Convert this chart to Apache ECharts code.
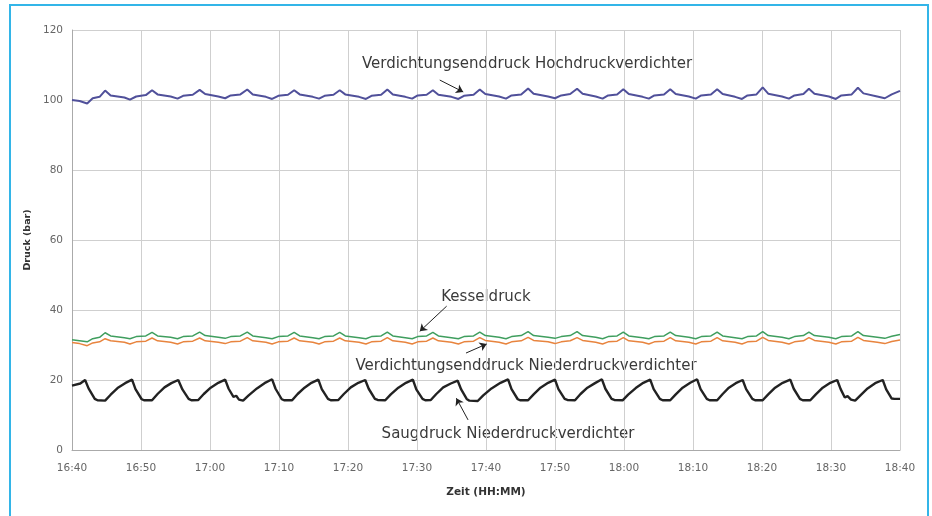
<!DOCTYPE html>
<html>
<head>
<meta charset="utf-8">
<script src="https://cdn.jsdelivr.net/npm/echarts@6/dist/echarts.min.js"></script>
<style>html,body{margin:0;padding:0;background:#fff;}#c{width:932px;height:516px;}</style>
</head>
<body>
<div id="c"></div>
<script>
// Tick labels (x axis, minutes from 16:40 in steps of 10)
var xLabels = ['16:40','16:50','17:00','17:10','17:20','17:30','17:40','17:50','18:00','18:10','18:20','18:30','18:40'];

// Shared time base (minutes after 16:40) for the high-pressure, boiler and low-pressure discharge series
var hdT = [0,1.1,2.2,3.0,4.0,4.8,
  5.6,7.6,8.4,9.3,10.7,11.6,
  12.4,14.3,15.3,16.1,17.5,18.5,
  19.3,21.2,22.2,23.0,24.4,25.4,
  26.2,28.1,29.0,29.9,31.3,32.2,
  33.0,34.9,35.8,36.6,37.9,38.8,
  39.6,41.6,42.6,43.4,44.8,45.7,
  46.5,48.3,49.3,50.1,51.4,52.3,
  53.1,55.0,56.0,56.8,58.2,59.1,
  59.9,61.9,62.9,63.7,65.1,66.1,
  66.9,69.0,70.0,70.9,72.2,73.2,
  74.0,75.9,76.9,77.7,79.0,79.9,
  80.7,82.7,83.6,84.4,85.8,86.7,
  87.5,89.4,90.4,91.2,92.6,93.5,
  94.3,96.1,97.1,97.9,99.2,100.1,
  100.9,102.9,103.9,104.7,106.0,106.8,
  107.6,109.7,110.7,111.5,113.0,113.9,
  114.7,116.7,117.8,118.8,120.0];

// Verdichtungsenddruck Hochdruckverdichter (bar)
var hochV = [100.0,99.7,99.0,100.5,100.9,102.7,
  101.3,100.7,100.1,101.0,101.4,102.8,
  101.6,101.0,100.4,101.2,101.5,102.9,
  101.7,101.0,100.5,101.3,101.6,103.0,
  101.6,100.9,100.3,101.2,101.5,102.8,
  101.6,100.9,100.4,101.2,101.5,102.8,
  101.6,100.9,100.3,101.2,101.5,103.0,
  101.6,100.9,100.4,101.3,101.5,102.8,
  101.5,100.9,100.3,101.2,101.5,103.0,
  101.7,101.0,100.4,101.3,101.6,103.3,
  101.8,101.0,100.5,101.3,101.7,103.2,
  101.8,101.0,100.4,101.3,101.6,103.1,
  101.7,100.9,100.4,101.3,101.6,103.1,
  101.7,101.0,100.4,101.3,101.6,103.1,
  101.7,100.9,100.3,101.3,101.6,103.6,
  101.8,101.0,100.4,101.3,101.7,103.2,
  101.8,101.0,100.3,101.3,101.6,103.5,
  101.9,101.0,100.5,101.6,102.6];

// Kesseldruck (bar)
var kesselV = [31.5,31.2,30.9,31.8,32.2,33.5,
  32.6,32.1,31.8,32.4,32.6,33.6,
  32.6,32.2,31.8,32.4,32.6,33.7,
  32.7,32.2,31.9,32.4,32.6,33.7,
  32.6,32.1,31.8,32.4,32.6,33.6,
  32.6,32.1,31.8,32.4,32.6,33.6,
  32.6,32.1,31.8,32.4,32.6,33.7,
  32.6,32.1,31.8,32.4,32.6,33.6,
  32.6,32.1,31.8,32.4,32.6,33.7,
  32.7,32.2,31.8,32.4,32.7,33.8,
  32.7,32.2,31.9,32.4,32.7,33.8,
  32.7,32.2,31.8,32.4,32.6,33.7,
  32.6,32.1,31.8,32.4,32.6,33.7,
  32.7,32.2,31.8,32.4,32.6,33.7,
  32.6,32.1,31.8,32.4,32.6,33.8,
  32.7,32.2,31.8,32.4,32.7,33.7,
  32.7,32.2,31.8,32.4,32.6,33.8,
  32.7,32.2,31.9,32.5,33.0];

// Verdichtungsenddruck Niederdruckverdichter (bar)
var niederV = [30.7,30.4,29.8,30.6,30.9,31.8,
  31.2,30.8,30.3,30.9,31.1,32.0,
  31.2,30.8,30.3,30.9,31.1,32.0,
  31.2,30.8,30.4,30.9,31.1,32.1,
  31.2,30.8,30.3,30.9,31.1,32.0,
  31.2,30.8,30.3,30.9,31.1,32.0,
  31.2,30.8,30.3,30.9,31.1,32.1,
  31.2,30.8,30.3,30.9,31.1,32.0,
  31.2,30.8,30.3,30.9,31.1,32.1,
  31.3,30.8,30.3,30.9,31.2,32.2,
  31.3,30.9,30.4,30.9,31.2,32.1,
  31.3,30.8,30.3,30.9,31.1,32.1,
  31.2,30.8,30.3,30.9,31.1,32.1,
  31.2,30.8,30.3,30.9,31.1,32.1,
  31.2,30.8,30.3,30.9,31.1,32.2,
  31.3,30.8,30.3,30.9,31.2,32.1,
  31.3,30.8,30.3,30.9,31.1,32.2,
  31.3,30.8,30.4,31.0,31.4];

// Saugdruck Niederdruckverdichter: times (min) and values (bar)
var saugT = [0,1.2,1.9,
  2.4,3.3,3.7,4.8,5.6,6.6,7.7,8.7,
  9.2,10.1,10.5,11.6,12.4,13.4,14.4,15.4,
  16.0,16.9,17.3,18.3,19.1,20.1,21.2,22.2,
  22.7,23.4,23.8,24.2,24.8,25.6,26.8,27.9,29.0,
  29.5,30.4,30.8,31.9,32.7,33.7,34.7,35.7,
  36.2,37.1,37.5,38.6,39.4,40.4,41.5,42.5,
  43.0,43.9,44.3,45.4,46.2,47.3,48.4,49.4,
  49.9,50.8,51.2,52.0,52.8,53.8,54.9,55.9,
  56.4,57.2,57.6,58.8,59.6,60.8,62.1,63.2,
  63.7,64.6,65.0,66.1,66.9,67.9,69.0,70.0,
  70.5,71.4,71.8,72.9,73.7,74.7,75.8,76.8,
  77.3,78.2,78.6,79.8,80.6,81.7,82.8,83.8,
  84.3,85.2,85.6,86.7,87.5,88.5,89.6,90.6,
  91.1,92.0,92.4,93.5,94.3,95.2,96.2,97.2,
  97.7,98.6,99.0,100.1,100.9,101.9,103.0,104.1,
  104.6,105.5,105.9,107.0,107.8,108.8,109.9,110.9,
  111.4,112.0,112.4,112.9,113.5,114.3,115.3,116.4,117.5,
  118.0,118.8,119.2,120.0];
var saugV = [18.4,19.0,20.0,
  17.6,14.6,14.2,14.1,15.8,17.7,19.1,20.1,
  17.4,14.5,14.2,14.2,16.0,17.9,19.1,20.0,
  17.3,14.6,14.2,14.3,16.0,17.8,19.2,20.1,
  17.5,15.2,15.5,14.4,14.1,15.6,17.6,19.1,20.2,
  17.5,14.5,14.2,14.2,16.0,17.8,19.2,20.1,
  17.4,14.6,14.2,14.3,16.0,17.9,19.2,20.0,
  17.5,14.6,14.3,14.2,15.9,17.8,19.2,20.1,
  17.3,14.6,14.2,14.3,16.0,17.9,19.0,19.8,
  17.3,14.6,14.1,14.0,15.6,17.6,19.2,20.2,
  17.4,14.5,14.2,14.2,15.9,17.8,19.2,20.1,
  17.4,14.6,14.3,14.2,16.0,17.8,19.1,20.2,
  17.5,14.6,14.3,14.2,15.8,17.7,19.2,20.1,
  17.4,14.6,14.2,14.2,15.9,17.8,19.2,20.2,
  17.4,14.6,14.2,14.2,16.0,17.8,19.1,20.0,
  17.4,14.6,14.2,14.2,15.9,17.8,19.2,20.1,
  17.5,14.6,14.2,14.2,15.9,17.8,19.2,20.0,
  17.4,15.0,15.4,14.4,14.1,15.7,17.6,19.1,20.0,
  17.3,14.7,14.6,14.6];

function pairs(t, v) { return t.map(function (x, i) { return [x, v[i]]; }); }

function arrow(a, b) {
  return [[{ coord: a, symbol: 'none' }, { coord: b, symbol: 'arrow', symbolSize: 7 }]];
}
var arrowStyle = { color: '#222', width: 1, type: 'solid' };
var FONT = 'DejaVu Sans';

var chart = echarts.init(document.getElementById('c'), null, { renderer: 'canvas' });
chart.setOption({
  animation: false,
  backgroundColor: '#fff',
  grid: { left: 72, right: 32, top: 30, bottom: 66 },
  xAxis: {
    type: 'value', min: 0, max: 120, interval: 10,
    name: 'Zeit (HH:MM)', nameLocation: 'middle', nameGap: 37,
    nameTextStyle: { fontFamily: FONT, fontSize: 10.5, fontWeight: 'bold', color: '#333' },
    axisLine: { lineStyle: { color: '#aaa' } },
    axisTick: { show: false },
    axisLabel: { fontFamily: FONT, fontSize: 10.5, color: '#666', margin: 13,
      formatter: function (v) { return xLabels[Math.round(v / 10)]; } },
    splitLine: { show: true, lineStyle: { color: '#cfcfcf', width: 1 } }
  },
  yAxis: {
    type: 'value', min: 0, max: 120, interval: 20,
    name: 'Druck (bar)', nameLocation: 'middle', nameGap: 37, nameRotate: 90,
    nameTextStyle: { fontFamily: FONT, fontSize: 9.5, fontWeight: 'bold', color: '#333' },
    axisLine: { show: true, lineStyle: { color: '#aaa' } },
    axisTick: { show: false },
    axisLabel: { fontFamily: FONT, fontSize: 10.5, color: '#666', margin: 9 },
    splitLine: { show: true, lineStyle: { color: '#cfcfcf', width: 1 } }
  },
  series: [
    { name: 'Verdichtungsenddruck Hochdruckverdichter', type: 'line', data: pairs(hdT, hochV),
      showSymbol: false, lineStyle: { color: '#50509a', width: 2 }, itemStyle: { color: '#50509a' },
      markLine: { silent: true, label: { show: false }, lineStyle: arrowStyle, data: arrow([53.3, 105.7], [56.7, 102.3]) } },
    { name: 'Kesseldruck', type: 'line', data: pairs(hdT, kesselV),
      showSymbol: false, lineStyle: { color: '#3f9e5e', width: 1.5 }, itemStyle: { color: '#3f9e5e' },
      markLine: { silent: true, label: { show: false }, lineStyle: arrowStyle, data: arrow([54.3, 41.1], [50.4, 33.9]) } },
    { name: 'Verdichtungsenddruck Niederdruckverdichter', type: 'line', data: pairs(hdT, niederV),
      showSymbol: false, lineStyle: { color: '#e8843e', width: 1.5 }, itemStyle: { color: '#e8843e' },
      markLine: { silent: true, label: { show: false }, lineStyle: arrowStyle, data: arrow([57.1, 27.7], [60.1, 30.3]) } },
    { name: 'Saugdruck Niederdruckverdichter', type: 'line', data: pairs(saugT, saugV),
      showSymbol: false, lineStyle: { color: '#222', width: 2.4 }, itemStyle: { color: '#222' },
      markLine: { silent: true, label: { show: false }, lineStyle: arrowStyle, data: arrow([57.4, 8.6], [55.7, 14.8]) } }
  ],
  graphic: [
    { type: 'rect', shape: { x: 10, y: 5, width: 918, height: 530 }, style: { fill: 'none', stroke: '#33b5e8', lineWidth: 2 }, silent: true },
    { type: 'text', x: 527, y: 64, style: { text: 'Verdichtungsenddruck Hochdruckverdichter', font: '15px "DejaVu Sans"', fill: '#3a3a3a', align: 'center', verticalAlign: 'middle' } },
    { type: 'text', x: 486, y: 297, style: { text: 'Kesseldruck', font: '15px "DejaVu Sans"', fill: '#3a3a3a', align: 'center', verticalAlign: 'middle' } },
    { type: 'text', x: 526, y: 366, style: { text: 'Verdichtungsenddruck Niederdruckverdichter', font: '15px "DejaVu Sans"', fill: '#3a3a3a', align: 'center', verticalAlign: 'middle' } },
    { type: 'text', x: 508, y: 434, style: { text: 'Saugdruck Niederdruckverdichter', font: '15px "DejaVu Sans"', fill: '#3a3a3a', align: 'center', verticalAlign: 'middle' } }
  ]
});
</script>
</body>
</html>
